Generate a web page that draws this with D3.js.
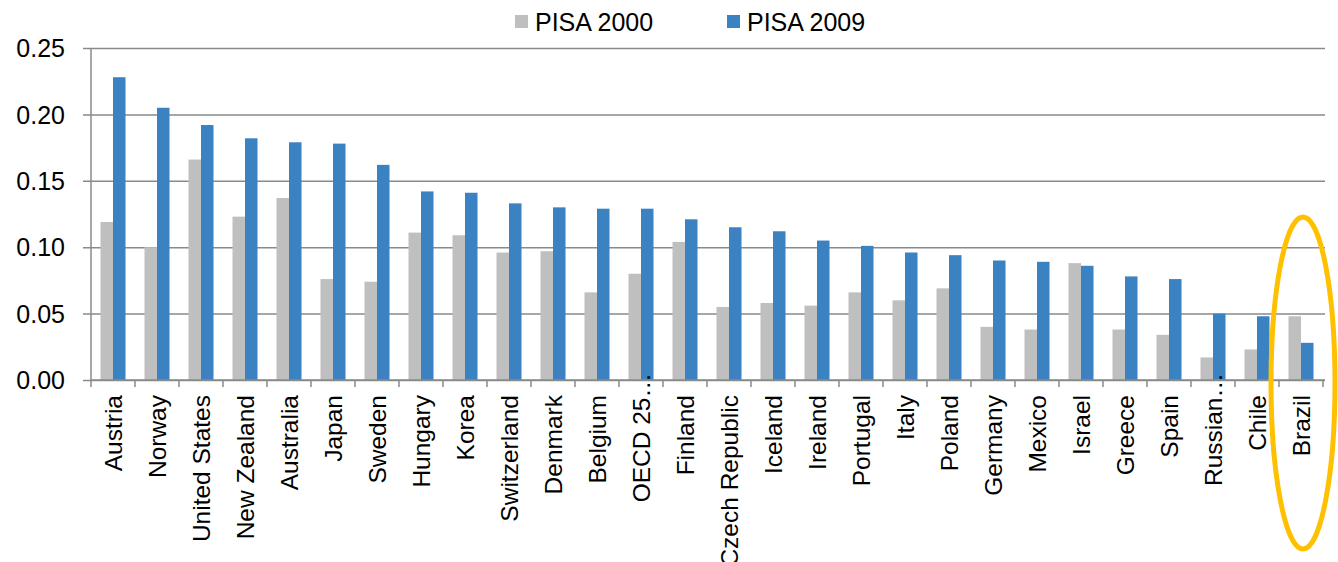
<!DOCTYPE html>
<html>
<head>
<meta charset="utf-8">
<script src="https://cdnjs.cloudflare.com/ajax/libs/d3/7.8.5/d3.min.js"></script>
<style>
  body { margin: 0; background: #fff; }
  svg { display: block; font-family: "Liberation Sans", Arial, sans-serif; }
</style>
</head>
<body>
<svg width="1338" height="562"></svg>
<script>
const svg = d3.select('svg');
const width = +svg.attr('width');
const height = +svg.attr('height');

// data
const countries = ['Austria', 'Norway', 'United States', 'New Zealand', 'Australia', 'Japan', 'Sweden',
    'Hungary', 'Korea', 'Switzerland', 'Denmark', 'Belgium', 'OECD 25…', 'Finland', 'Czech Republic',
    'Iceland', 'Ireland', 'Portugal', 'Italy', 'Poland', 'Germany', 'Mexico', 'Israel', 'Greece',
    'Spain', 'Russian…', 'Chile', 'Brazil'];
const pisa2000 = [0.119, 0.100, 0.166, 0.123, 0.137, 0.076, 0.074, 0.111, 0.109, 0.096, 0.097, 0.066,
    0.080, 0.104, 0.055, 0.058, 0.056, 0.066, 0.060, 0.069, 0.040, 0.038, 0.088, 0.038, 0.034, 0.017,
    0.023, 0.048];
const pisa2009 = [0.228, 0.205, 0.192, 0.182, 0.179, 0.178, 0.162, 0.142, 0.141, 0.133, 0.130, 0.129,
    0.129, 0.121, 0.115, 0.112, 0.105, 0.101, 0.096, 0.094, 0.090, 0.089, 0.086, 0.078, 0.076, 0.050,
    0.048, 0.028];
const seriesNames = ['PISA 2000', 'PISA 2009'];
const yTicks = [0, 0.05, 0.10, 0.15, 0.20, 0.25];

const colors = d3.scaleOrdinal().domain(seriesNames).range(['#bfbfbf', '#3b82c3']);

const margin = { top: 48, right: 15, bottom: 182, left: 91 };
const plotRight = width - margin.right;

const x0 = d3.scaleBand().domain(countries).range([margin.left, plotRight]).padding(0);
const x1 = d3.scaleBand().domain(seriesNames).range([0, x0.bandwidth()]).paddingInner(0).paddingOuter(0.76);
const y = d3.scaleLinear().domain([0, 0.25]).range([height - margin.bottom, margin.top]);

const rows = countries.map((c, i) => ({
    country: c,
    values: [{ s: 'PISA 2000', v: pisa2000[i] }, { s: 'PISA 2009', v: pisa2009[i] }]
}));

const gridColor = '#8a8a8a';

// gridlines + y axis ticks
const yAxis = d3.axisLeft(y).tickValues(yTicks).tickFormat(d3.format('.2f')).tickSize(-(plotRight + 2 - margin.left)).tickPadding(0);
const gy = svg.append('g').attr('transform', `translate(${margin.left},0)`).call(yAxis);
gy.select('.domain').remove();
gy.selectAll('.tick line').attr('stroke', gridColor).attr('stroke-width', 1.5).attr('x1', -8);
gy.selectAll('.tick text').attr('x', -26).attr('fill', '#000').attr('font-size', 25)
    .attr('font-family', '"Liberation Sans", Arial, sans-serif').attr('dy', '0.35em');

// bars
const groups = svg.append('g').selectAll('g').data(rows).join('g')
    .attr('transform', d => `translate(${x0(d.country)},0)`);
groups.selectAll('rect').data(d => d.values).join('rect')
    .attr('x', d => x1(d.s))
    .attr('width', x1.bandwidth())
    .attr('y', d => y(d.v))
    .attr('height', d => y(0) - y(d.v))
    .attr('fill', d => colors(d.s));

// left axis line
svg.append('line')
    .attr('x1', margin.left).attr('x2', margin.left)
    .attr('y1', y(0.25)).attr('y2', y(0))
    .attr('stroke', gridColor).attr('stroke-width', 1.5);

// bottom axis line and ticks at band boundaries
svg.append('line')
    .attr('x1', margin.left).attr('x2', plotRight + 2)
    .attr('y1', y(0)).attr('y2', y(0))
    .attr('stroke', gridColor).attr('stroke-width', 1.5);
const bounds = countries.map(c => x0(c)).concat([x0.range()[1]]);
svg.append('g').selectAll('line').data(bounds).join('line')
    .attr('x1', d => d).attr('x2', d => d)
    .attr('y1', y(0)).attr('y2', y(0) + 7)
    .attr('stroke', gridColor).attr('stroke-width', 1.5);

// category labels (rotated)
const labelG = svg.append('g');
labelG.selectAll('text').data(countries).join('text')
    .attr('transform', d => {
        const cx = x0(d) + x0.bandwidth() / 2;
        const shift = d.endsWith('…') ? 22 : 0;
        return `translate(${cx},${y(0) + 15 - shift}) rotate(-90)`;
    })
    .attr('text-anchor', 'end')
    .attr('dy', '0.35em')
    .attr('font-size', 24.5)
    .attr('fill', '#000')
    .text(d => d);

// legend
const legend = svg.append('g');
const legendX = [515, 727];
seriesNames.forEach((s, i) => {
    legend.append('rect')
        .attr('x', legendX[i]).attr('y', 15)
        .attr('width', 13).attr('height', 13)
        .attr('fill', colors(s));
    legend.append('text')
        .attr('x', legendX[i] + 20).attr('y', 22)
        .attr('dy', '0.35em')
        .attr('font-size', 25)
        .attr('fill', '#000')
        .text(s);
});

// highlight ring around the last category
const last = countries[countries.length - 1];
svg.append('ellipse')
    .attr('cx', x0(last) + x0.bandwidth() / 2 + 2)
    .attr('cy', 383)
    .attr('rx', 32)
    .attr('ry', 166)
    .attr('fill', 'none')
    .attr('stroke', '#ffc000')
    .attr('stroke-width', 5);
</script>
</body>
</html>
